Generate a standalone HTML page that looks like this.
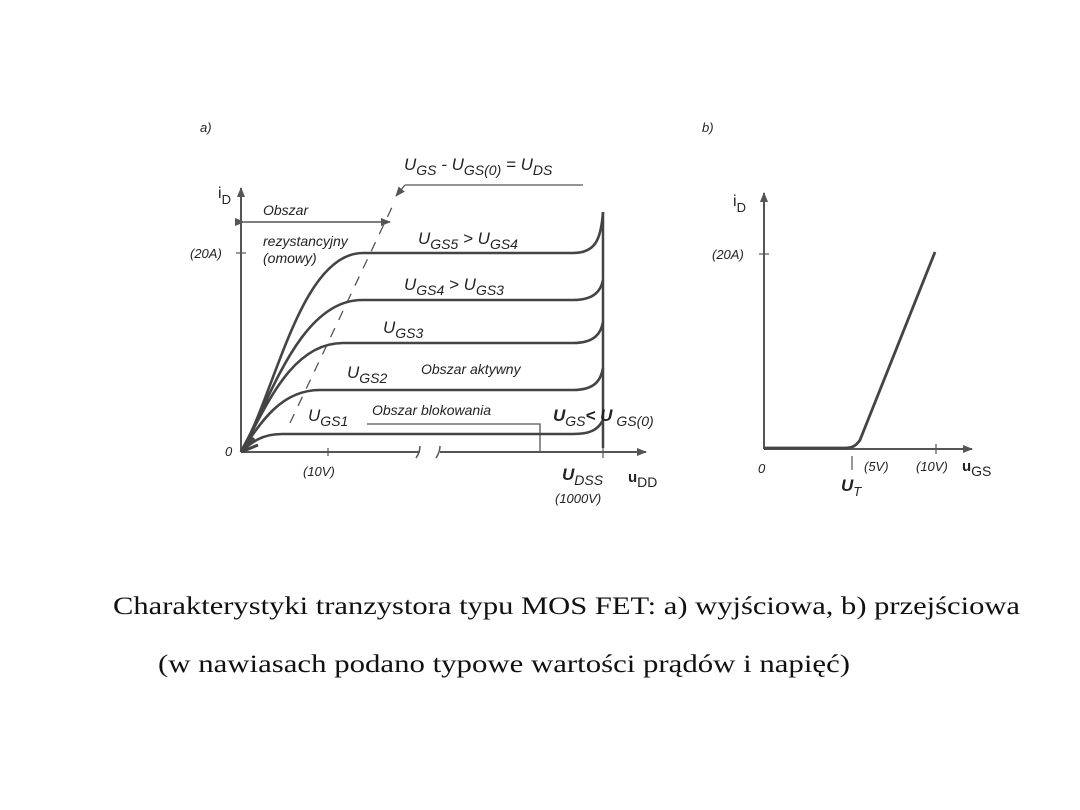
<!DOCTYPE html>
<html><head><meta charset="utf-8"><style>
html,body{margin:0;padding:0;background:#fff;}
svg{display:block;}
.t{font-family:"Liberation Sans",sans-serif;font-style:italic;fill:#222;}
.s{font-family:"Liberation Serif",serif;fill:#111;}
</style></head><body>
<svg width="1080" height="810" viewBox="0 0 1080 810" xmlns="http://www.w3.org/2000/svg">
<defs>
<marker id="ar" markerWidth="10" markerHeight="10" refX="9" refY="5" orient="auto" markerUnits="userSpaceOnUse"><path d="M0,1 L10,5 L0,9 z" fill="#555"/></marker>
</defs>
<g stroke="#555" fill="none" stroke-width="2">
<line x1="241" y1="452" x2="241" y2="188" marker-end="url(#ar)"/>
<line x1="241" y1="452" x2="420" y2="452"/>
<line x1="440" y1="452" x2="646" y2="452" marker-end="url(#ar)"/>
<path d="M416,458 q4,-6 4,-12 M436,458 q4,-6 4,-12" stroke-width="1.5"/>
<line x1="236" y1="253" x2="246" y2="253" stroke-width="1.2"/>
<line x1="328" y1="448" x2="328" y2="456" stroke-width="1.2"/>
<line x1="603" y1="446" x2="603" y2="458" stroke-width="1.2"/>
<line x1="603" y1="212" x2="603" y2="448" stroke="#444" stroke-width="2.5"/>
<line x1="244" y1="222" x2="390" y2="222" stroke-width="1.5" marker-start="url(#ar)" marker-end="url(#ar)"/>
<line x1="290" y1="423" x2="394" y2="203" stroke-width="1.3" stroke-dasharray="10,9"/>
<line x1="405" y1="185" x2="583" y2="185" stroke-width="1.3"/>
<line x1="405" y1="185" x2="396" y2="196" stroke-width="1.3" marker-end="url(#ar)"/>
<path d="M367,424 H540 V452" stroke-width="1.3"/>
</g>
<g stroke="#444" fill="none" stroke-width="2.6">
<path d="M241,452 C275,395 300,253 363,253 H573 C595,253 601,240 603,212"/>
<path d="M241,452 C270,400 300,300 362,300 H573 C595,300 601,290 603,280"/>
<path d="M241,452 C265,410 290,343 343,343 H573 C595,343 601,333 603,322"/>
<path d="M241,452 C262,420 282,390 320,390 H573 C595,390 601,380 603,368"/>
<path d="M241,452 C252,442 262,434 282,434 H573 C590,434 598,430 603,420"/>
<path d="M241,452 L254,438 M241,452 L258,445 M241,452 L250,435" stroke-width="3"/>
</g>
<text class="t" x="200" y="132" font-size="13">a)</text>
<text class="t" x="218" y="198" font-size="16" style="font-style:normal">i<tspan font-size="13" dy="6">D</tspan></text>
<text class="t" x="190" y="258" font-size="13">(20A)</text>
<text class="t" x="225" y="456" font-size="13">0</text>
<text class="t" x="303" y="476" font-size="13">(10V)</text>
<text class="t" x="263" y="215" font-size="14">Obszar</text>
<text class="t" x="263" y="246" font-size="14">rezystancyjny</text>
<text class="t" x="263" y="263" font-size="14">(omowy)</text>
<text class="t" x="404" y="170" font-size="17">U<tspan font-size="14" dy="5">GS</tspan><tspan dy="-5"> - U</tspan><tspan font-size="14" dy="5">GS(0)</tspan><tspan dy="-5"> = U</tspan><tspan font-size="14" dy="5">DS</tspan></text>
<text class="t" x="418" y="244" font-size="17">U<tspan font-size="14" dy="5">GS5</tspan><tspan dy="-5">  &gt;  U</tspan><tspan font-size="14" dy="5">GS4</tspan></text>
<text class="t" x="404" y="290" font-size="17">U<tspan font-size="14" dy="5">GS4</tspan><tspan dy="-5"> &gt; U</tspan><tspan font-size="14" dy="5">GS3</tspan></text>
<text class="t" x="383" y="333" font-size="17">U<tspan font-size="14" dy="5">GS3</tspan></text>
<text class="t" x="347" y="378" font-size="17">U<tspan font-size="14" dy="5">GS2</tspan></text>
<text class="t" x="421" y="374" font-size="14">Obszar aktywny</text>
<text class="t" x="308" y="421" font-size="17">U<tspan font-size="14" dy="5">GS1</tspan></text>
<text class="t" x="372" y="415" font-size="14">Obszar blokowania</text>
<text class="t" x="553" y="421" font-size="17" font-weight="bold">U<tspan font-size="14" font-weight="normal" dy="5">GS</tspan><tspan dy="-5">&lt; U</tspan><tspan font-size="14" font-weight="normal" dy="5"> GS(0)</tspan></text>
<text class="t" x="562" y="480" font-size="17" font-weight="bold">U<tspan font-size="14" font-weight="normal" dy="5">DSS</tspan></text>
<text class="t" x="628" y="482" font-size="15" font-weight="bold" style="font-style:normal">u<tspan font-size="14" font-weight="normal" dy="5">DD</tspan></text>
<text class="t" x="555" y="503" font-size="13">(1000V)</text>
<g stroke="#555" fill="none" stroke-width="2">
<line x1="764" y1="449" x2="764" y2="193" marker-end="url(#ar)"/>
<line x1="764" y1="449" x2="972" y2="449" marker-end="url(#ar)"/>
<line x1="759" y1="254" x2="769" y2="254" stroke-width="1.2"/>
<line x1="936" y1="444" x2="936" y2="454" stroke-width="1.2"/>
<line x1="852" y1="456" x2="852" y2="470" stroke-width="1.2"/>
</g>
<path d="M764,448 H845 C852,448 856,446 860,440 L935,252" stroke="#444" stroke-width="2.8" fill="none"/>
<text class="t" x="702" y="132" font-size="13">b)</text>
<text class="t" x="733" y="206" font-size="16" style="font-style:normal">i<tspan font-size="13" dy="6">D</tspan></text>
<text class="t" x="712" y="259" font-size="13">(20A)</text>
<text class="t" x="758" y="473" font-size="13">0</text>
<text class="t" x="864" y="471" font-size="13">(5V)</text>
<text class="t" x="916" y="471" font-size="13">(10V)</text>
<text class="t" x="962" y="471" font-size="15" font-weight="bold" style="font-style:normal">u<tspan font-size="14" font-weight="normal" dy="5">GS</tspan></text>
<text class="t" x="841" y="491" font-size="17" font-weight="bold">U<tspan font-size="13" font-weight="normal" dy="5">T</tspan></text>
<text class="s" x="113" y="614" font-size="25" textLength="907" lengthAdjust="spacingAndGlyphs">Charakterystyki tranzystora typu MOS FET: a) wyjściowa, b) przejściowa</text>
<text class="s" x="158" y="672" font-size="25" textLength="692" lengthAdjust="spacingAndGlyphs">(w nawiasach podano typowe wartości prądów i napięć)</text>
</svg>
</body></html>
